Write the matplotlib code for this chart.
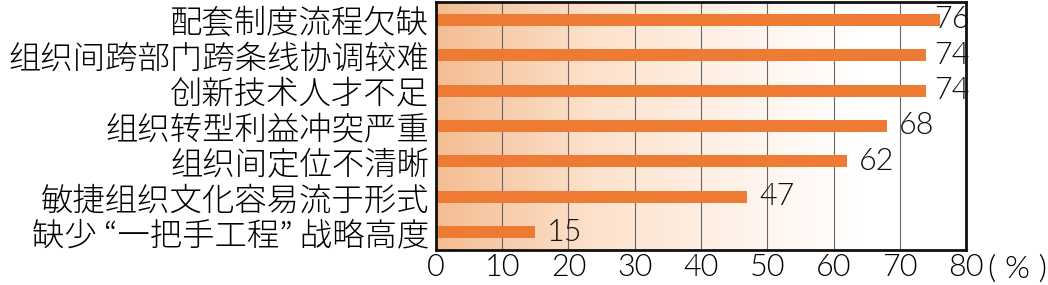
import matplotlib
matplotlib.use("Agg")
import matplotlib.pyplot as plt
import numpy as np
from matplotlib.colors import LinearSegmentedColormap

CJK = ['Noto Sans CJK JP', 'DejaVu Sans']
NUM = ['Lato', 'DejaVu Sans']
plt.rcParams['font.family'] = CJK

categories = ["配套制度流程欠缺", "组织间跨部门跨条线协调较难", "创新技术人才不足",
              "组织转型利益冲突严重", "组织间定位不清晰", "敏捷组织文化容易流于形式",
              "缺少 “一把手工程” 战略高度"]
values = [76, 74, 74, 68, 62, 47, 15]
xticks = [0, 10, 20, 30, 40, 50, 60, 70, 80]

fig = plt.figure(figsize=(10.48, 2.85), dpi=100)
ax = fig.add_axes([0.416, 0.1228, 0.5058, 0.8702])

cmap = LinearSegmentedColormap.from_list(
    "bg", [(0, "#f3bd92"), (0.3, "#fde2cd"), (0.6, "#fff4ec"), (0.8, "#ffffff"), (1, "#ffffff")])
grad = np.linspace(0, 1, 256).reshape(1, -1)
ax.imshow(grad, cmap=cmap, aspect='auto', extent=[0, 80, 6.5, -0.5], zorder=0)

y = np.arange(len(categories))
ax.barh(y, values, height=0.34, color="#ee7b33", zorder=3)
for yi, v in zip(y, values):
    ax.text(min(v + 1.8, 75.2), yi, str(v), va='center', ha='left', fontsize=22,
            family=NUM, fontweight=300, color='#111111', zorder=4)

ax.set_xlim(0, 80)
ax.set_ylim(6.5, -0.5)
ax.set_yticks(y)
ax.set_yticklabels(categories, fontsize=23.3, fontweight=300, family=CJK)
ax.set_xticks(xticks)
ax.set_xticklabels([str(t) for t in xticks], fontsize=22, fontweight=300, family=NUM)
ax.tick_params(axis='both', length=0)
ax.tick_params(axis='x', pad=2)
ax.tick_params(axis='y', pad=5)
ax.grid(axis='x', color='#666666', linewidth=0.8, zorder=1)
ax.set_axisbelow(False)
for s in ax.spines.values():
    s.set_linewidth(2)
    s.set_color('#111111')
    s.set_zorder(5)

fig.text(988 / 1048, 0.005, "( % )", fontsize=23, fontweight=300, family=NUM, ha='left', va='bottom')

fig.savefig("out.png", dpi=100)
